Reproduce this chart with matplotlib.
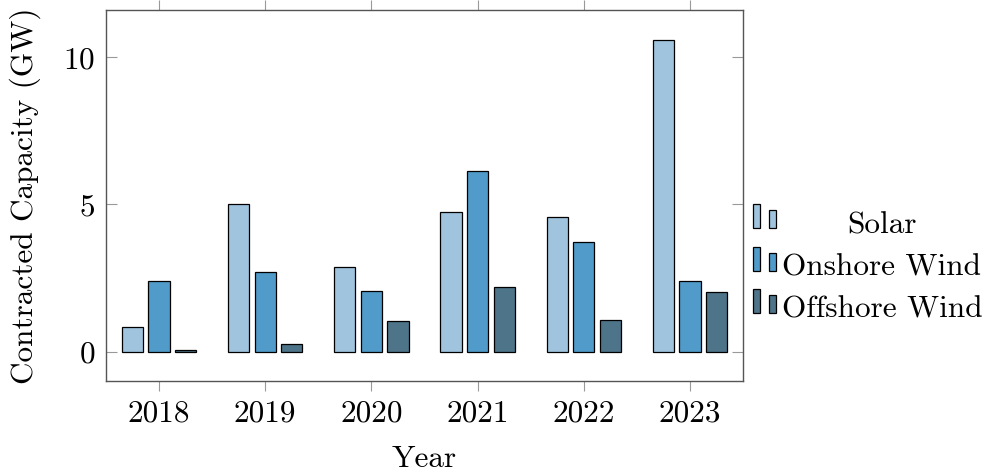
import matplotlib
matplotlib.use("Agg")
import matplotlib.pyplot as plt
from matplotlib.patches import Rectangle
import numpy as np

plt.rcParams['font.family'] = ['cmr10', 'DejaVu Serif']
plt.rcParams['mathtext.fontset'] = 'cm'
plt.rcParams['axes.formatter.use_mathtext'] = True

years = [2018, 2019, 2020, 2021, 2022, 2023]
series_names = ["Solar", "Onshore Wind", "Offshore Wind"]
solar = [0.84, 5.0, 2.87, 4.73, 4.57, 10.57]
onshore = [2.41, 2.69, 2.04, 6.12, 3.73, 2.38]
offshore = [0.06, 0.26, 1.04, 2.18, 1.07, 2.01]
colors = ["#a0c4de", "#519bca", "#4d7489"]

W, H = 984, 471
fig = plt.figure(figsize=(W / 100, H / 100), dpi=100)
ax = fig.add_axes([106 / W, (H - 381) / H, (743 - 106) / W, (381 - 10) / H])

offsets = [-0.25, 0.0, 0.25]
x = np.array(years, dtype=float)
for vals, off, col in zip([solar, onshore, offshore], offsets, colors):
    ax.bar(x + off, vals, width=0.2, color=col, edgecolor='black', linewidth=0.9, zorder=3)

ax.set_xlim(2017.5, 2023.5)
ax.set_ylim(-1, 11.6)
ax.set_xticks(years)
ax.set_xticklabels([str(y) for y in years])
ax.set_yticks([0, 5, 10])

fs = 22.5
ax.tick_params(axis='x', direction='out', length=7.5, width=0.8, color='#999999',
               top=True, bottom=True, labelsize=fs, pad=6)
ax.tick_params(axis='y', direction='in', length=8, width=0.8, color='#999999',
               left=True, right=True, labelsize=fs, pad=8)
for s in ax.spines.values():
    s.set_color('#555555')
    s.set_linewidth(1.0)

ax.set_xlabel("Year", fontsize=fs, labelpad=12.5)
ax.set_ylabel("Contracted Capacity (GW)", fontsize=fs, labelpad=16)

# pgfplots-style legend (outside right, centered text)
row_bottoms = [228, 270.5, 313]
for name, col, yb in zip(series_names, colors, row_bottoms):
    r1 = Rectangle((753 / W, (H - yb) / H), 7 / W, 24 / H, transform=fig.transFigure,
                   facecolor=col, edgecolor='black', linewidth=0.9)
    r2 = Rectangle((768.5 / W, (H - yb) / H), 7.5 / W, 18 / H, transform=fig.transFigure,
                   facecolor=col, edgecolor='black', linewidth=0.9)
    fig.add_artist(r1)
    fig.add_artist(r2)
    fig.text(882 / W, (H - yb - 5) / H, name, ha='center', va='baseline', fontsize=fs)

fig.savefig("out.png", dpi=100)
